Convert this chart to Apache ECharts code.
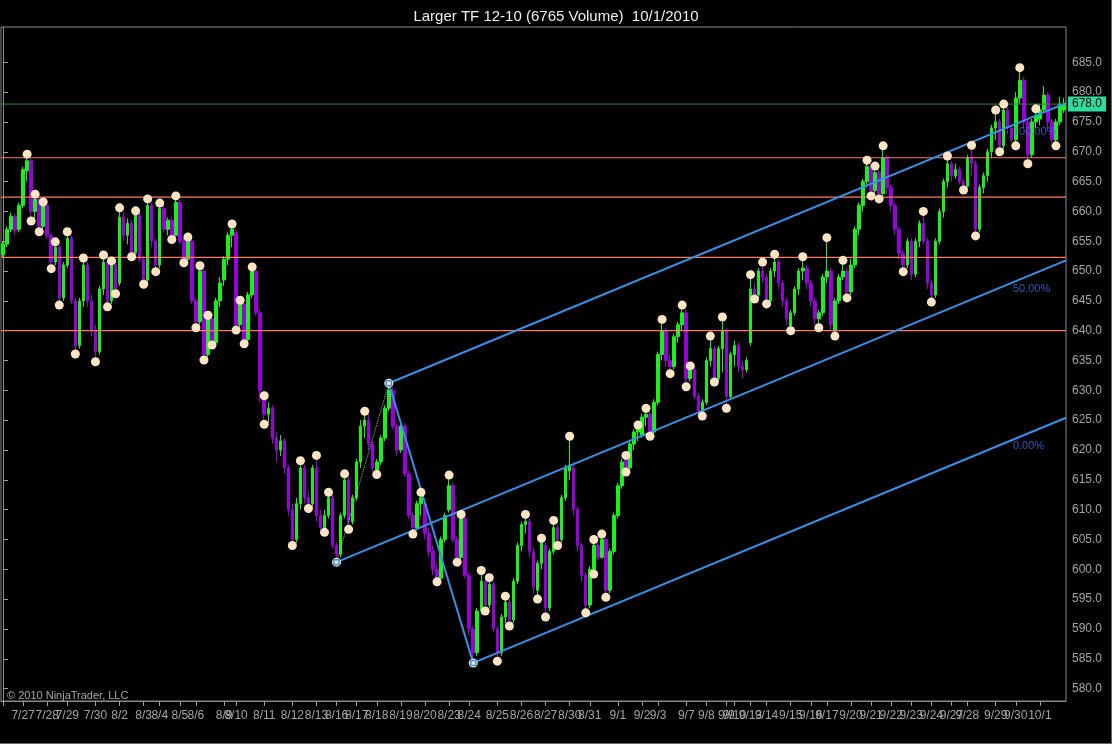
<!DOCTYPE html>
<html>
<head>
<meta charset="utf-8">
<title>Larger TF 12-10</title>
<script src="https://cdn.jsdelivr.net/npm/echarts@6/dist/echarts.min.js"></script>
<style>
  html, body { margin: 0; padding: 0; background: #000; }
  #chart { width: 1112px; height: 744px; }
</style>
</head>
<body>
<div id="chart"></div>
<script>
// session days on the x axis and how many volume bars each one holds
const dayLabels = ['7/26','7/27','7/28','7/29','7/30','8/2','8/3','8/4','8/5','8/6','8/9','8/10','8/11',
  '8/12','8/13','8/16','8/17','8/18','8/19','8/20','8/23','8/24','8/25','8/26','8/27','8/30','8/31',
  '9/1','9/2','9/3','9/7','9/8','9/9','9/10','9/13','9/14','9/15','9/16','9/17','9/20','9/21','9/22',
  '9/23','9/24','9/27','9/28','9/29','9/30','10/1'];
const barsPerDay = [5,6,5,7,6,6,4,5,4,7,3,7,7,6,5,5,5,6,6,6,5,7,6,6,6,5,7,6,4,7,5,5,2,4,4,6,5,4,6,5,5,5,5,5,4,7,5,6,7];

// volume bars: [open, close, low, high]
const bars = [
  [652.8,654.5,652.3,655],[654.5,657,654,657.5],[657,659.2,656.5,659.8],[659.2,656.8,656,659.6],[657,661,656.5,661.5],
  [661,667,660.5,667.5],[666.8,668.5,665,669.6],[668.5,660,658.4,668.8],[660,662,658.5,662.9],[662,657.5,656.6,662.3],
  [657.5,661,657,661.6],[661,656,655.5,661.2],[656,651.5,650.4,656.3],[651.5,654,651,654.9],[654,645.5,644.3,654.3],
  [645.5,651,645,651.5],[651,655.5,650.5,656.6],[655.5,645,644.5,656],[645,637.5,636.1,645.5],[637.5,645,637,645.5],
  [645,651,644,652.2],[651,645,644,651.5],[645,640,639,646],[640,636.5,634.8,641],[636.5,647,636,647.5],
  [647,651.5,646,652.7],[651.5,645,644,652],[645,651,644.5,651.7],[651,647,646.2,651.3],[648,659,647.5,660.6],
  [659,656,655,660],[656,658,654.5,658.8],[658,653,652.4,658.5],[653,659.5,652.8,660.1],[659.5,652,651.5,660],
  [652,648.5,647.8,652.5],[648.5,661,648,662.1],[661,655,654,661.5],[655,651,649.9,655.5],[651,660.5,650.5,661.4],
  [660.5,657,656.5,661],[657,658.5,656,659],[658.5,656,655.3,659],[656,661.5,655.8,662.6],[661.5,655,654.5,662],
  [655,652,651.4,655.5],[652,655,651.8,655.7],[655,645,644.5,655.3],[645,641.5,640.5,645.5],[641.5,650,641,650.9],
  [650,636,635.1,650.3],[636,642,635.5,642.6],[642,638,637.6,642.3],[638,645,637.8,645.5],[645,648,644,649],
  [648.5,652,647.5,652.5],[652,656,651,656.5],[656,657,654,657.9],[656.5,641,640.1,657],[641,644.5,640.5,645.1],
  [644.5,638.5,637.8,645],[638.5,646,638,646.5],[646,650,645.5,650.7],[650,643,642.5,650.3],[643,630,628,643.5],
  [628.5,626,624.3,629.1],[626,627,624.5,628],[627,622,621,627.5],[622,620,618,623],[620,621.5,619,622.5],
  [621.5,617,616,622],[617,610,609,617.5],[610,605,604,611],[605,611,604.5,612],[611,617,610,618.2],
  [617,612,611,617.5],[612,611,610.2,613],[611,617,610.5,617.5],[617,609,608,619.1],[609,607,606.5,610],
  [607,609,606.2,610],[609,612,608.5,612.9],[612,604,603.5,612.5],[604,602.5,601.2,604.5],[602.5,609,602,609.5],
  [609,615,608.5,616],[615,608,606.7,615.5],[608,612,607.5,612.5],[612,618,611.5,618.5],[618,624,617,625],
  [624,625,622,626.5],[625,621,620,626],[621,617,616.5,621.5],[616.5,618,615.9,618.5],[618,622,617.5,622.5],
  [622,627,621.5,627.5],[627,630,626.5,631.2],[630,624,623.5,630.5],[624,620,619,624.5],[620,624,619.5,624.5],
  [624,616,615.5,624.5],[616,609,608.5,616.5],[609,607,605.9,609.5],[607,611,606.5,611.5],[611,612,609,612.9],
  [611,606,605,611.5],[606,603,602,607],[603,600,599,604],[600,598.5,597.9,601],[598.5,605,598,605.5],
  [605,609,604.5,609.5],[610,614,609.5,615.8],[614,605,604.5,614.5],[605,602,601.2,605.5],[602,608.5,601.5,609.2],
  [608.5,599,598.5,609],[599,590,589,599.5],[590,586,584.3,590.5],[586,593,585.5,593.5],[593,598,592.5,599.8],
  [598,594,593,598.5],[594,597.5,593.5,598.6],[597.5,590,589.5,598],[590,586,584.6,590.5],[586,592,585.5,592.5],
  [592,594.5,591,595.5],[594.5,591.5,590.5,595],[591.5,598,591,598.5],[598,604,597.5,604.5],[604,607.5,603,608],
  [607.5,608,606,609.2],[608,603,602,608.5],[603,597,596,603.5],[596.5,601,595,601.5],[601,604.5,600,605.2],
  [604,593.5,592,604.5],[593.5,603,593,603.5],[603,607,602.5,608.2],[607,605,604,607.5],[605,612,604.5,612.5],
  [612,617,611.5,617.5],[616.5,617.5,615,622.3],[617,610,609,618],[610,604,603,610.5],[604,599,598,604.5],
  [599,594,592.7,599.5],[594,600,593.5,600.5],[600,604,599.2,605],[604,602,601.5,604.5],[602,605,601.8,605.9],
  [605,596.5,595.3,605.2],[596.5,603,596,603.5],[603,609,602.5,609.5],[609,614,608.5,614.5],[614,618,613.5,618.5],
  [618.5,617,616.3,619.1],[617,621,616.5,621.5],[621,623,620,623.5],[623,623.5,621.5,624.2],[622.5,625.5,622,626],
  [625.5,626,624,627],[626,623,622.3,626.5],[623,628,622.5,628.5],[628,636,627.5,636.5],[636,640,635,641.9],
  [640,635,634,640.5],[635,634,632.8,636],[634,639,633.5,639.5],[639,641,638,641.5],[641,643,640,644.3],
  [643,632,630.6,643.5],[632,633.5,631.5,634.1],[633.5,629,628.5,634],[629,626.5,626,629.5],[626.5,628,625.7,628.5],
  [628,635,627.5,635.5],[635,637,634,639.1],[637,632,631.4,637.5],[632,637,631.5,637.5],[637,640,633,642.3],
  [640,629,627,640.5],[629,636,628.5,636.5],[636,637.5,634,638.3],[637.5,634,633,638],[634,633.5,632,635],
  [633.5,635,633,635.5],[638,647,637.5,649.4],[647,646,645.3,648],[646,650,645.5,650.5],[650,649,648,651.5],
  [649,645,644.5,649.5],[645,650,644.8,650.5],[650,651.5,649,652.8],[651.5,648,647,652],[648,645,644,648.5],
  [645,642,641,645.5],[640.8,643,640,643.5],[643,647,642.5,647.5],[647,650,646,650.5],[650,650.5,648.5,652.4],
  [650.5,648,647,651],[648,645,644,648.5],[645,642,641,645.5],[642,643,640.5,643.5],[643,649,642.5,649.5],
  [649,650,648,655.6],[650,641,640,650.5],[640,645,639.1,645.5],[645,649,644.5,649.5],[649,650,648.5,651.8],
  [650,646.5,645.5,650.5],[646.5,651,646,652],[651,657,650.5,657.5],[657,661,656,661.5],[661,665,660,665.5],
  [665,667.5,664,668.6],[667.5,663.5,662.6,668],[663.5,666.5,663,667.6],[666.5,663,662.1,667],[663,669,662.5,671],
  [669,664,663,669.5],[664,661,660,664.5],[661,657,656,661.5],[657,653,652,657.5],[653,651,649.9,653.5],
  [651,655,650.5,655.5],[655,649.5,648.5,655.5],[649.5,655,649,655.5],[655,658,654,658.5],[658,655,654.5,660],
  [655,648,647,655.5],[648,646,644.8,648.5],[646,655,645.5,655.5],[655,660,654.5,660.5],[660,665,659,665.5],
  [665,668,664,669.3],[668,666,665,668.5],[666,667,665.5,668],[667,665,664.5,667.5],[665,664.2,663.6,665.5],
  [664.2,669,664,669.5],[669,668,666,671.1],[668,657,655.9,668.5],[657,664,656.5,664.5],[664,666,663,666.5],
  [666,670,665,670.5],[670,674,669,674.5],[674,675,672,677],[675,671,670,675.5],[671,677,670.5,678],
  [677,674,673,677.5],[674,672,671.5,674.5],[672,679,671,680],[679,682,678,684.1],[682,675,674,682.5],
  [675,669.5,668,675.5],[669.5,675,669,675.5],[675,676,674,677.2],[675.5,677,674.5,678],[677,679.5,676.5,681],
  [679.5,675,674,680],[675,672,671.5,675.5],[672,675,671,675.5],[675,678,674.5,679.2],[677,678,676.5,679]
];

// swing indicator dots: [bar index, price]
const swingHighs = [[6,669.6],[8,662.9],[10,661.6],[13,654.9],[16,656.6],[20,652.2],[25,652.7],[27,651.7],
  [29,660.6],[33,660.1],[36,662.1],[39,661.4],[43,662.6],[46,655.7],[49,650.9],[51,642.6],[57,657.9],[59,645.1],
  [62,650.7],[65,629.1],[74,618.2],[78,619.1],[81,612.9],[85,616.0],[90,626.5],[96,631.2],[104,612.9],[111,615.8],
  [114,609.2],[119,599.8],[121,598.6],[125,595.5],[130,609.2],[134,605.2],[137,608.2],[141,622.3],[147,605.0],
  [149,605.9],[155,619.1],[158,624.2],[160,627.0],[164,641.9],[169,644.3],[171,634.1],[176,639.1],[179,642.3],
  [186,649.4],[189,651.5],[192,652.8],[199,652.4],[205,655.6],[209,651.8],[215,668.6],[217,667.6],[219,671.0],
  [229,660.0],[235,669.3],[241,671.1],[247,677.0],[249,678.0],[253,684.1],[257,677.2]];
const swingLows = [[7,658.4],[9,656.6],[12,650.4],[14,644.3],[18,636.1],[23,634.8],[26,644.0],[28,646.2],
  [32,652.4],[35,647.8],[38,649.9],[42,655.3],[45,651.4],[48,640.5],[50,635.1],[52,637.6],[58,640.1],[60,637.8],
  [65,624.3],[72,604.0],[76,610.2],[80,606.2],[83,601.2],[86,606.7],[93,615.9],[102,605.9],[108,597.9],[113,601.2],
  [117,584.3],[120,593.0],[123,584.6],[126,590.5],[133,595.0],[135,592.0],[138,604.0],[145,592.7],[147,599.2],
  [150,595.3],[155,616.3],[161,622.3],[166,632.8],[170,630.6],[174,625.7],[177,631.4],[180,627.0],[187,645.3],
  [190,644.5],[196,640.0],[203,640.5],[207,639.1],[210,645.5],[216,662.6],[218,662.1],[224,649.9],[231,644.8],
  [239,663.6],[242,655.9],[248,670.0],[252,671.0],[255,668.0],[262,671.0]];

// drawn horizontal levels and the last price line
const levelLines = [669.0, 662.4, 652.3, 640.0];
const lastPrice = 678.0;

// Andrews pitchfork anchors: [bar index, price]
const pfA = [83, 601.2];
const pfB = [96, 631.2];
const pfC = [117, 584.3];
const pfLabels = ['100.00%', '50.00%', '0.00%'];

const yTicks = [580,585,590,595,600,605,610,615,620,625,630,635,640,645,650,655,660,665,670,675,680,685];

// ---- build categories: first bar of each day carries the label
const categories = [];
dayLabels.forEach(function (d, k) {
  for (let j = 0; j < barsPerDay[k]; j++) categories.push(d + '|' + j);
});
const lastIdx = categories.length - 1;
const leftEdge = -0.5;
const rightEdge = lastIdx + 0.5;

// pitchfork geometry
const mid = [(pfB[0] + pfC[0]) / 2, (pfB[1] + pfC[1]) / 2];
const slope = (mid[1] - pfA[1]) / (mid[0] - pfA[0]);
function along(p, x) { return p[1] + slope * (x - p[0]); }
const pfLines = [pfB, pfA, pfC];
const labelX = 251.3;

const fontFam = '"Liberation Sans", Arial, sans-serif';
const pfColor = '#3592ec';

const chart = echarts.init(document.getElementById('chart'));

const series = [
  {
    type: 'candlestick',
    name: 'price',
    data: bars,
    barWidth: 3,
    z: 2,
    itemStyle: {
      color: '#19f219',
      color0: '#9a00dc',
      borderColor: '#19f219',
      borderColor0: '#9a00dc',
      borderWidth: 1
    }
  }
];

// horizontal drawn levels
levelLines.forEach(function (v) {
  series.push({
    type: 'line', xAxisIndex: 1,
    data: [[leftEdge, v], [rightEdge, v]],
    symbol: 'none', silent: true, animation: false, z: 3,
    lineStyle: { color: '#ff7a62', width: 1.2 }
  });
});

// last price line with its tag
series.push({
  type: 'line', xAxisIndex: 1,
  data: [[leftEdge, lastPrice], [rightEdge, lastPrice]],
  symbol: 'none', silent: true, animation: false, z: 3,
  lineStyle: { color: '#3a8a3a', width: 1 },
  endLabel: {
    show: true, distance: 2,
    formatter: function () { return lastPrice.toFixed(1); },
    backgroundColor: '#2fdc9f', color: '#000',
    padding: [2, 4, 1, 4], fontSize: 12, fontFamily: fontFam
  }
});

// pitchfork prongs
pfLines.forEach(function (p, k) {
  series.push({
    type: 'line',
    xAxisIndex: 1,
    data: [[p[0], p[1]], [rightEdge, along(p, rightEdge)]],
    symbol: 'none',
    lineStyle: { color: pfColor, width: 2 },
    z: 4,
    silent: true,
    animation: false
  });
  series.push({
    type: 'scatter',
    xAxisIndex: 1,
    data: [[labelX, along(p, labelX)]],
    symbolSize: 0,
    silent: true,
    z: 3,
    label: {
      show: true, position: 'bottom', distance: 1, align: 'left',
      formatter: pfLabels[k], color: '#3d6be6', fontSize: 11, fontFamily: fontFam
    }
  });
});

// handle B -> C and dotted A -> B
series.push({
  type: 'line', xAxisIndex: 1, data: [pfB, pfC], symbol: 'none',
  lineStyle: { color: pfColor, width: 2 }, z: 4, silent: true, animation: false
});
series.push({
  type: 'line', xAxisIndex: 1, data: [pfA, pfB], symbol: 'none',
  lineStyle: { color: '#b0b0b0', width: 1, type: 'dotted' }, z: 4, silent: true, animation: false
});

// swing dots
series.push({
  type: 'scatter', xAxisIndex: 1, data: swingHighs.concat(swingLows),
  symbol: 'circle', symbolSize: 9, z: 5, silent: true,
  itemStyle: { color: '#ffe4c4', opacity: 1 }
});

// pitchfork anchor squares
series.push({
  type: 'scatter', xAxisIndex: 1, data: [pfA, pfB, pfC],
  symbol: 'rect', symbolSize: 5, z: 6, silent: true,
  itemStyle: { color: 'rgba(0,0,0,0)', borderColor: pfColor, borderWidth: 1.5, opacity: 1 }
});

chart.setOption({
  backgroundColor: '#000',
  animation: false,
  title: [
    {
      text: 'Larger TF 12-10 (6765 Volume)  10/1/2010',
      left: 'center', top: 4,
      textStyle: { color: '#eeeeee', fontSize: 15, fontWeight: 'normal', fontFamily: fontFam }
    },
    {
      text: '© 2010 NinjaTrader, LLC',
      left: 2, top: 685,
      textStyle: { color: '#a8a8a8', fontSize: 11, fontWeight: 'normal', fontFamily: fontFam }
    }
  ],
  grid: {
    left: 1, right: 46, top: 27, bottom: 43,
    show: true, borderColor: '#8a8a8a', borderWidth: 1, backgroundColor: '#000'
  },
  xAxis: [
    {
      type: 'category',
      data: categories,
      boundaryGap: true,
      axisLine: { show: true, lineStyle: { color: '#8a8a8a' } },
      axisTick: {
        show: true, length: 5, alignWithLabel: true,
        interval: function (idx, v) { return v.split('|')[1] === '0'; },
        lineStyle: { color: '#9a9a9a' }
      },
      axisLabel: {
        interval: function (idx, v) { return idx > 0 && v.split('|')[1] === '0'; },
        formatter: function (v) { return v.split('|')[0]; },
        color: '#a4a4a4', fontSize: 12, margin: 9, fontFamily: fontFam
      },
      splitLine: { show: false }
    },
    {
      type: 'value',
      min: leftEdge, max: rightEdge,
      show: false
    }
  ],
  yAxis: {
    type: 'value',
    position: 'right',
    min: 577.92, max: 690.92,
    scale: true,
    axisLine: { show: true, lineStyle: { color: '#8a8a8a' } },
    axisTick: { show: true, length: 5, customValues: yTicks, lineStyle: { color: '#9a9a9a' } },
    axisLabel: {
      customValues: yTicks,
      formatter: function (v) { return v.toFixed(1); },
      color: '#a4a4a4', fontSize: 12, margin: 6, fontFamily: fontFam
    },
    splitLine: { show: false }
  },
  graphic: [
    { type: 'line', shape: { x1: 1111.5, y1: 0, x2: 1111.5, y2: 744 }, style: { stroke: '#6a6a6a', lineWidth: 1 }, silent: true },
    { type: 'line', shape: { x1: 0, y1: 743.5, x2: 1112, y2: 743.5 }, style: { stroke: '#6a6a6a', lineWidth: 1 }, silent: true }
  ],
  series: series
});
</script>
</body>
</html>
